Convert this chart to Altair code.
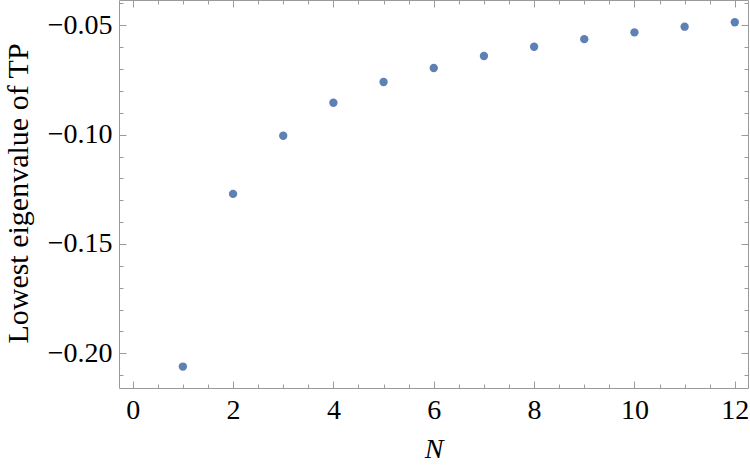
import altair as alt
import pandas as pd

N_values = [1, 2, 3, 4, 5, 6, 7, 8, 9, 10, 11, 12]
eigen_values = [-0.2061, -0.1271, -0.1005, -0.0854, -0.0759, -0.0695,
                -0.0640, -0.0598, -0.0563, -0.0532, -0.0506, -0.0486]

x_major = [0, 2, 4, 6, 8, 10, 12]
x_minor = [0, 0.5, 1, 1.5, 2, 2.5, 3, 3.5, 4, 4.5, 5, 5.5, 6, 6.5, 7, 7.5,
           8, 8.5, 9, 9.5, 10, 10.5, 11, 11.5, 12]
y_major = [-0.20, -0.15, -0.10, -0.05]
y_minor = [-0.21, -0.20, -0.19, -0.18, -0.17, -0.16, -0.15, -0.14, -0.13,
           -0.12, -0.11, -0.10, -0.09, -0.08, -0.07, -0.06, -0.05, -0.04]

df = pd.DataFrame({"N": N_values, "E": eigen_values})

W, H = 629, 388
FRAME = "#9a9a9a"
FONT = "Liberation Serif"
FS = 28

xs = alt.Scale(domain=[-0.273, 12.263], nice=False, zero=False)
ys = alt.Scale(domain=[-0.2159, -0.0384], nice=False, zero=False)

base = alt.Chart(df)

main = base.mark_circle(size=70, opacity=1, color="#5E81B5").encode(
    x=alt.X("N:Q", scale=xs, axis=alt.Axis(
        orient="bottom", values=x_major, ticks=False, grid=False,
        domain=True, domainColor=FRAME, domainWidth=1,
        labelFont=FONT, labelFontSize=FS, labelColor="black", labelPadding=8,
        labelFlush=False, labelOverlap=False,
        title="N", titleFont=FONT, titleFontSize=FS, titleFontStyle="italic",
        titleFontWeight="normal", titleColor="black", titleY=69,
        titleBaseline="alphabetic")),
    y=alt.Y("E:Q", scale=ys, axis=alt.Axis(
        orient="left", values=y_major, format=".2f", ticks=False, grid=False,
        domain=True, domainColor=FRAME, domainWidth=1,
        labelFont=FONT, labelFontSize=FS, labelColor="black", labelPadding=7,
        labelFlush=False, labelOverlap=False,
        title="Lowest eigenvalue of TP", titleFont=FONT, titleFontSize=30,
        titleFontWeight="normal", titleColor="black", titleX=-92, titleY=193,
        titleBaseline="alphabetic")),
)


def tick_layer(xorient, yorient, xvals, yvals, size, domain):
    return base.mark_circle(opacity=0).encode(
        x=alt.X("N:Q", scale=xs, axis=alt.Axis(
            orient=xorient, offset=-H, values=xvals, labels=False, grid=False,
            ticks=True, tickSize=size, tickColor=FRAME, tickWidth=1,
            domain=domain, domainColor=FRAME, domainWidth=1, title=None)),
        y=alt.Y("E:Q", scale=ys, axis=alt.Axis(
            orient=yorient, offset=-W, values=yvals, labels=False, grid=False,
            ticks=True, tickSize=size, tickColor=FRAME, tickWidth=1,
            domain=domain, domainColor=FRAME, domainWidth=1, title=None)),
    )


l2 = tick_layer("top", "right", x_major, y_major, 7, False)
l3 = tick_layer("bottom", "left", x_major, y_major, 7, True)
l4 = tick_layer("top", "right", x_minor, y_minor, 4, False)
l5 = tick_layer("bottom", "left", x_minor, y_minor, 4, False)

chart = alt.layer(main, l2, l3, l4, l5).resolve_scale(
    x="shared", y="shared"
).resolve_axis(
    x="independent", y="independent"
).properties(
    width=W, height=H,
    autosize=alt.AutoSizeParams(type="none"),
    padding={"left": 119, "top": 0, "right": 2, "bottom": 79},
    background="white",
).configure_view(strokeWidth=0)

chart.save("out.html", embed_options={"renderer": "svg", "actions": False})
